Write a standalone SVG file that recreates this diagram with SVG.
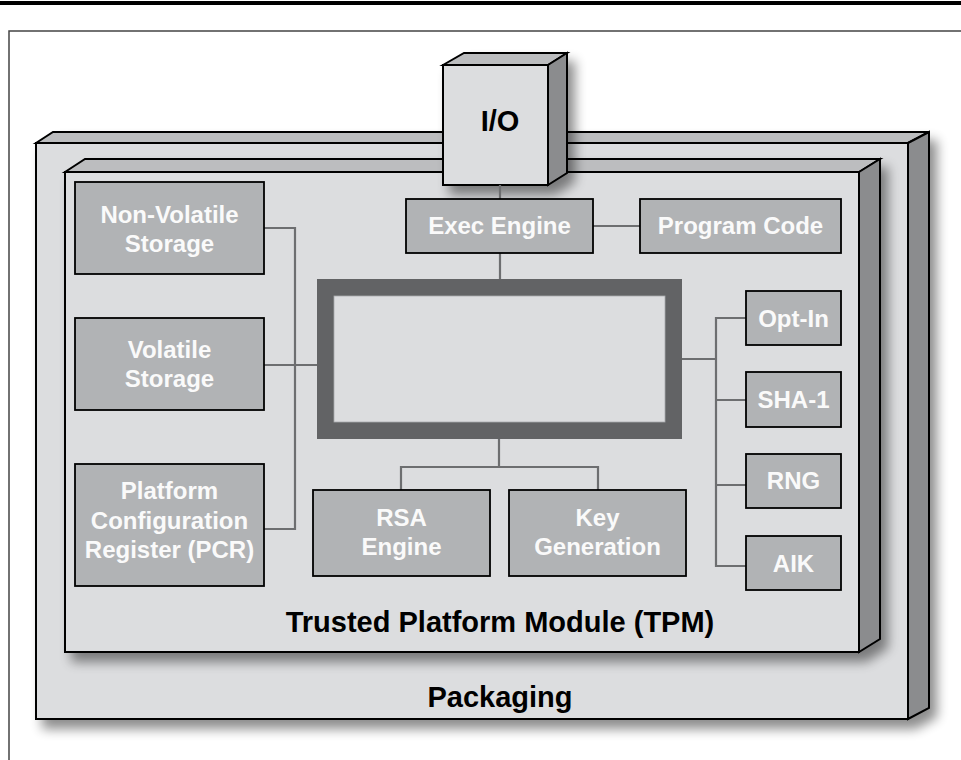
<svg xmlns="http://www.w3.org/2000/svg" width="961" height="760" viewBox="0 0 961 760">
<defs>
<filter id="sh" x="-10%" y="-10%" width="130%" height="130%">
<feGaussianBlur in="SourceAlpha" stdDeviation="6"/>
<feOffset dx="7" dy="9" result="b"/>
<feComponentTransfer><feFuncA type="linear" slope="0.45"/></feComponentTransfer>
<feMerge><feMergeNode/><feMergeNode in="SourceGraphic"/></feMerge>
</filter>
<style>
.front{fill:#dcdddf;stroke:#000;stroke-width:2;stroke-linejoin:miter}
.top{fill:#bcbdbf;stroke:#000;stroke-width:2;stroke-linejoin:miter}
.side{fill:#8b8c8e;stroke:#000;stroke-width:2;stroke-linejoin:miter}
.box{fill:#b1b3b5;stroke:#000;stroke-width:1.8}
.lbl{font-family:"Liberation Sans",Arial,sans-serif;font-weight:bold;font-size:24px;fill:#fafafa;text-anchor:middle}
.big{font-family:"Liberation Sans",Arial,sans-serif;font-weight:bold;font-size:29px;fill:#000;text-anchor:middle}
.con{fill:none;stroke:#6d6e70;stroke-width:2.2}
</style>
</defs>
<rect x="0" y="0" width="961" height="760" fill="#fff"/>
<rect x="0" y="1" width="961" height="4" fill="#000"/>
<path d="M9,760 V31 H961" fill="none" stroke="#444" stroke-width="1.5"/>

<g id="packaging">
<g filter="url(#sh)">
<polygon class="front" points="36,143 908,143 908,719 36,719"/>
<polygon class="top" points="36,143 53,132 929,132 908,143"/>
<polygon class="side" points="908,143 929,132 929,708 908,719"/>
</g>
<text class="big" x="500" y="707">Packaging</text>
</g>

<g id="tpm">
<g filter="url(#sh)">
<polygon class="front" points="65,172 859,172 859,652 65,652"/>
<polygon class="top" points="65,172 85,159 880,159 859,172"/>
<polygon class="side" points="859,172 880,159 880,639 859,652"/>
</g>
<text class="big" x="500" y="632">Trusted Platform Module (TPM)</text>
</g>

<g id="io">
<g filter="url(#sh)">
<polygon class="front" points="443,65 548,65 548,185 443,185"/>
<polygon class="top" points="443,65 464,53 567,53 548,65"/>
<polygon class="side" points="548,65 567,53 567,173 548,185"/>
</g>
<text class="big" x="500" y="131">I/O</text>
</g>

<g id="connectors">
<path class="con" d="M500,185 V199 M500,253 V279 M593,226 H640"/>
<path class="con" d="M264,228 H295 V529 H264 M264,365 H317"/>
<path class="con" d="M499,439 V467 M401,490 V467 H598 V490"/>
<path class="con" d="M682,359 H716 M746,318 H716 V566 H746 M716,400 H746 M716,485 H746"/>
</g>

<g id="cpu">
<rect x="325.5" y="287.5" width="348" height="143" fill="#dcdddf" stroke="#626365" stroke-width="17"/>
<rect x="334" y="296" width="331" height="126" fill="none" stroke="#a9aaac" stroke-width="0.8"/>
</g>

<g id="exec-engine">
<rect class="box" x="406" y="199" width="187" height="54"/>
<text class="lbl" x="499.5" y="234">Exec Engine</text>
</g>
<g id="program-code">
<rect class="box" x="640" y="199" width="201" height="54"/>
<text class="lbl" x="740.5" y="234">Program Code</text>
</g>
<g id="non-volatile-storage">
<rect class="box" x="75" y="182" width="189" height="92"/>
<text class="lbl" x="169.5" y="223">Non-Volatile</text>
<text class="lbl" x="169.5" y="252">Storage</text>
</g>
<g id="volatile-storage">
<rect class="box" x="75" y="318" width="189" height="92"/>
<text class="lbl" x="169.5" y="358">Volatile</text>
<text class="lbl" x="169.5" y="387">Storage</text>
</g>
<g id="pcr">
<rect class="box" x="75" y="464" width="189" height="122"/>
<text class="lbl" x="169.5" y="499">Platform</text>
<text class="lbl" x="169.5" y="529">Configuration</text>
<text class="lbl" x="169.5" y="558">Register (PCR)</text>
</g>
<g id="rsa-engine">
<rect class="box" x="313" y="490" width="177" height="86"/>
<text class="lbl" x="401.5" y="526">RSA</text>
<text class="lbl" x="401.5" y="555">Engine</text>
</g>
<g id="key-generation">
<rect class="box" x="509" y="490" width="177" height="86"/>
<text class="lbl" x="597.5" y="526">Key</text>
<text class="lbl" x="597.5" y="555">Generation</text>
</g>
<g id="opt-in">
<rect class="box" x="746" y="291" width="95" height="54"/>
<text class="lbl" x="793.5" y="327">Opt-In</text>
</g>
<g id="sha-1">
<rect class="box" x="746" y="372" width="95" height="55"/>
<text class="lbl" x="793.5" y="408">SHA-1</text>
</g>
<g id="rng">
<rect class="box" x="746" y="454" width="95" height="54"/>
<text class="lbl" x="793.5" y="489">RNG</text>
</g>
<g id="aik">
<rect class="box" x="746" y="536" width="95" height="54"/>
<text class="lbl" x="793.5" y="572">AIK</text>
</g>
</svg>
